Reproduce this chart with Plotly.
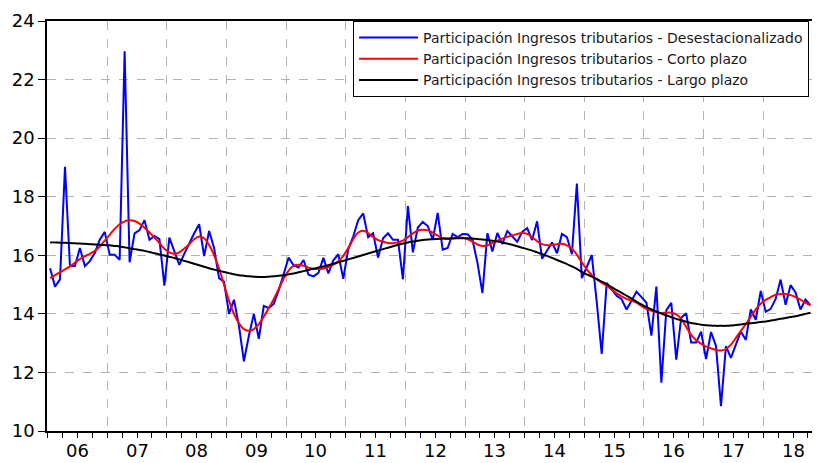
import numpy as np
import plotly.graph_objects as go

# monthly series, Jan 2006 - Oct 2018
start_year = 2006
years = list(range(2006, 2019))
year_labels = ["06", "07", "08", "09", "10", "11", "12", "13", "14", "15", "16", "17", "18"]

desestacionalizado = [
    15.56, 14.93, 15.18, 19.02, 15.63, 15.63, 16.25, 15.63, 15.80, 16.08, 16.53, 16.80,
    16.02, 16.02, 15.85, 22.97, 15.76, 16.75, 16.86, 17.20, 16.53, 16.66, 16.55, 14.96,
    16.60, 16.10, 15.67, 16.05, 16.42, 16.75, 17.06, 15.97, 16.83, 16.25, 15.22, 15.10,
    14.00, 14.48, 13.60, 12.38, 13.25, 14.00, 13.15, 14.27, 14.20, 14.34, 14.80, 15.38,
    15.92, 15.66, 15.58, 15.84, 15.34, 15.28, 15.40, 15.91, 15.38, 15.83, 16.04, 15.20,
    16.21, 16.64, 17.20, 17.43, 16.62, 16.75, 15.92, 16.58, 16.75, 16.53, 16.53, 15.18,
    17.68, 16.10, 16.95, 17.14, 17.00, 16.53, 17.45, 16.19, 16.25, 16.73, 16.62, 16.73,
    16.72, 16.53, 15.74, 14.71, 16.75, 16.13, 16.76, 16.38, 16.83, 16.65, 16.46, 16.80,
    16.93, 16.52, 17.16, 15.88, 16.15, 16.44, 16.07, 16.73, 16.62, 16.04, 18.45, 15.22,
    15.60, 16.01, 14.40, 12.63, 15.06, 14.85, 14.62, 14.50, 14.15, 14.45, 14.76, 14.57,
    14.38, 13.26, 14.93, 11.65, 14.12, 14.38, 12.44, 13.87, 14.02, 13.02, 13.02, 13.39,
    12.46, 13.38, 12.90, 10.85, 12.90, 12.50, 12.92, 13.40, 13.11, 14.15, 13.80, 14.78,
    14.07, 14.17, 14.51, 15.17, 14.31, 14.98, 14.73, 14.15, 14.49, 14.30,
]

corto_plazo = [
    15.22, 15.32, 15.42, 15.52, 15.62, 15.75, 15.87, 15.97, 16.05, 16.15, 16.30, 16.50,
    16.70, 16.90, 17.06, 17.16, 17.20, 17.17, 17.08, 16.94, 16.78, 16.60, 16.42, 16.22,
    16.10, 16.05, 16.10, 16.23, 16.38, 16.55, 16.64, 16.58, 16.35, 16.00, 15.55, 15.00,
    14.45, 14.00, 13.68, 13.48, 13.42, 13.48, 13.65, 13.90, 14.20, 14.50, 14.85, 15.20,
    15.48, 15.64, 15.68, 15.64, 15.58, 15.54, 15.53, 15.55, 15.60, 15.68, 15.80, 15.98,
    16.25, 16.55, 16.78, 16.84, 16.76, 16.62, 16.52, 16.46, 16.42, 16.41, 16.44, 16.50,
    16.62, 16.75, 16.84, 16.87, 16.85, 16.77, 16.67, 16.58, 16.56, 16.57, 16.60, 16.60,
    16.55, 16.46, 16.37, 16.32, 16.34, 16.42, 16.50, 16.57, 16.63, 16.68, 16.73, 16.76,
    16.73, 16.62, 16.48, 16.38, 16.34, 16.35, 16.38, 16.39, 16.34, 16.22, 16.02, 15.76,
    15.52, 15.32, 15.18, 15.06, 14.96, 14.83, 14.70, 14.60, 14.51, 14.45, 14.38, 14.27,
    14.17, 14.10, 14.05, 14.03, 14.04, 14.04, 13.98, 13.83, 13.55, 13.28, 13.10, 12.98,
    12.88, 12.82, 12.77, 12.75, 12.80, 12.95, 13.18, 13.42, 13.65, 13.90, 14.15, 14.35,
    14.48, 14.57, 14.65, 14.68, 14.68, 14.64, 14.57, 14.48, 14.38, 14.29,
]

largo_plazo = [
    16.44, 16.44, 16.43, 16.43, 16.42, 16.41, 16.40, 16.39, 16.38, 16.37, 16.36, 16.35,
    16.34, 16.32, 16.30, 16.27, 16.24, 16.21, 16.18, 16.15, 16.11, 16.07, 16.03, 15.99,
    15.95, 15.91, 15.86, 15.81, 15.76, 15.71, 15.66, 15.61, 15.56, 15.51, 15.47, 15.43,
    15.39, 15.35, 15.32, 15.30, 15.28, 15.27, 15.26, 15.26, 15.27, 15.28, 15.30, 15.32,
    15.35, 15.38, 15.42, 15.46, 15.50, 15.54, 15.58, 15.62, 15.66, 15.71, 15.76, 15.81,
    15.86, 15.91, 15.96, 16.01, 16.06, 16.11, 16.16, 16.21, 16.26, 16.31, 16.36, 16.40,
    16.44, 16.47, 16.50, 16.52, 16.54, 16.55, 16.56, 16.57, 16.57, 16.58, 16.58, 16.58,
    16.58, 16.57, 16.56, 16.54, 16.52, 16.50, 16.47, 16.44, 16.40, 16.36, 16.31, 16.26,
    16.21, 16.16, 16.10, 16.04, 15.98, 15.91, 15.84, 15.77, 15.70, 15.62, 15.54, 15.43,
    15.35, 15.27, 15.19, 15.10, 15.01, 14.91, 14.81, 14.72, 14.62, 14.52, 14.42, 14.32,
    14.23, 14.15, 14.08, 14.01, 13.95, 13.89, 13.83, 13.78, 13.73, 13.69, 13.66, 13.63,
    13.61, 13.60, 13.59, 13.59, 13.59, 13.60, 13.62, 13.64, 13.66, 13.68, 13.70, 13.72,
    13.74, 13.77, 13.80, 13.83, 13.86, 13.89, 13.92, 13.96, 14.00, 14.04,
]

# mid-month positions in fractional years
n = len(desestacionalizado)
x = start_year + (np.arange(n) + 0.5) / 12

fig = go.Figure()
fig.add_trace(go.Scatter(x=x, y=desestacionalizado, mode="lines",
                         line=dict(color="#0000ff", width=2),
                         name="Participación Ingresos tributarios - Desestacionalizado"))
fig.add_trace(go.Scatter(x=x, y=corto_plazo, mode="lines",
                         line=dict(color="#ff0000", width=2, shape="spline"),
                         name="Participación Ingresos tributarios - Corto plazo"))
fig.add_trace(go.Scatter(x=x, y=largo_plazo, mode="lines",
                         line=dict(color="#000000", width=2, shape="spline"),
                         name="Participación Ingresos tributarios - Largo plazo"))

tick_font = dict(family="DejaVu Sans, Verdana, sans-serif", size=18, color="#000")

# year labels centred inside each year
for yr, lab in zip(years, year_labels):
    fig.add_annotation(x=yr + 0.5, y=0, xref="x", yref="paper",
                       text=lab, showarrow=False, yanchor="top", yshift=-8,
                       borderpad=0, font=tick_font)

x_range = [2005.99, 2018.885]
grid_col = "#b4b4b4"
quarters = [y + q / 4 for y in years for q in range(4)]

# page body has an 8px margin, so the figure is a bit smaller than the window
fig.update_layout(
    width=812, height=455,
    margin=dict(l=39, r=2, t=6, b=32),
    paper_bgcolor="white", plot_bgcolor="white",
    font=dict(family="DejaVu Sans, Verdana, sans-serif", size=18, color="#000"),
    showlegend=True,
    legend=dict(
        x=0.398, y=1.0, xanchor="left", yanchor="top",
        bgcolor="white", bordercolor="#000", borderwidth=1,
        font=dict(family="DejaVu Sans, sans-serif", size=14, color="#1a1a1a"),
        tracegroupgap=0, itemwidth=59,
    ),
    xaxis=dict(
        range=x_range, tickmode="array", tickvals=years, ticktext=[""] * len(years),
        ticks="outside", ticklen=9, tickcolor="#000",
        showgrid=True, gridcolor=grid_col, griddash="dash", gridwidth=1,
        minor=dict(tickvals=quarters, ticks="outside", ticklen=5, tickcolor="#000",
                   showgrid=False),
        showline=True, linecolor="#000", linewidth=1.5, mirror=True,
        zeroline=False,
    ),
    yaxis=dict(
        range=[10, 24], dtick=2, tick0=10,
        ticks="outside", ticklen=7, tickcolor="#000",
        tickfont=tick_font, ticklabeloverflow="allow",
        showgrid=True, gridcolor=grid_col, griddash="dash", gridwidth=1,
        showline=True, linecolor="#000", linewidth=1.5, mirror=True,
        zeroline=False,
    ),
)

fig.write_html("out.html")
